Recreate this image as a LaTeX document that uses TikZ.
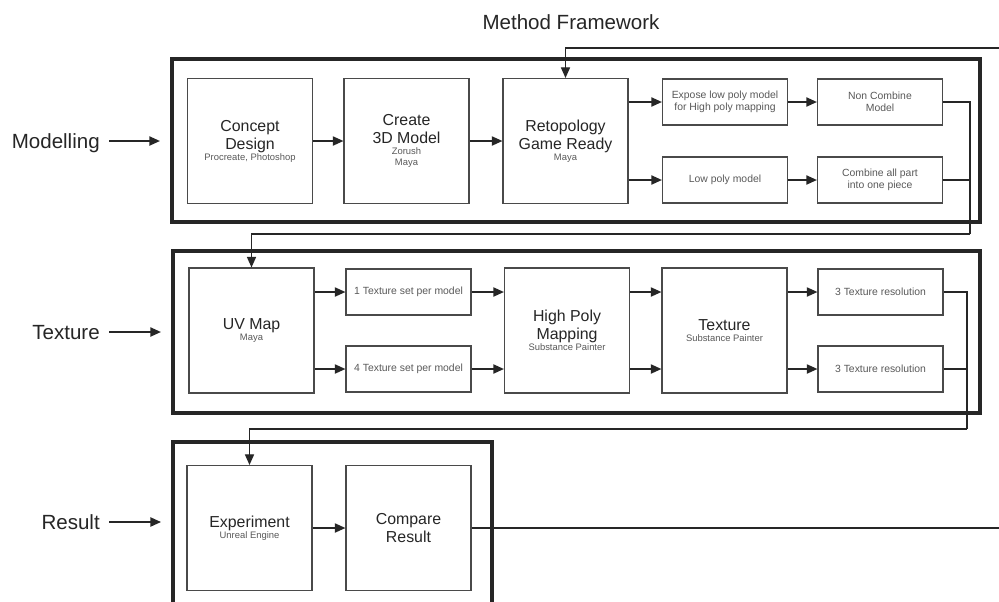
\documentclass[tikz,border=0pt]{standalone}
\usepackage{fontspec}
\setmainfont{Liberation Sans}
\usepackage{xcolor}
\definecolor{InkDark}{HTML}{262626}
\definecolor{InkSoft}{HTML}{595959}
\definecolor{EdgeGray}{HTML}{4A4A4A}
\usepackage{tikz}
\usetikzlibrary{positioning,calc,arrows.meta}
\newcommand\subline[1]{{\fontsize{6.7}{7.6}\selectfont\color{InkSoft}#1}}

\begin{document}
\begin{tikzpicture}[x=0.025cm, y=-0.025cm,
  >={Triangle[length=7.5pt,width=6.5pt]},
  frame/.style={draw=InkDark, line width=2.8pt, inner sep=0pt},
  bigbox/.style={draw=EdgeGray, line width=0.8pt, minimum width=3.125cm, minimum height=3.125cm,
    inner sep=1pt, align=center, text=InkDark, font=\fontsize{11.3}{12.8}\selectfont},
  smallbox/.style={draw=EdgeGray, line width=0.8pt, minimum width=3.125cm, minimum height=1.15cm,
    inner sep=1pt, align=center, text=InkSoft, font=\fontsize{7.4}{8.8}\selectfont},
  headline/.style={font=\fontsize{14.6}{16}\selectfont, text=InkDark, inner sep=0pt, text height=10.4pt, text depth=0pt},
  rowlabel/.style={headline, anchor=east},
  flow/.style={->, line width=1.1pt, draw=InkDark},
  link/.style={line width=0.8pt, draw=InkDark},
  entry/.style={flow, shorten <=6.4pt, shorten >=7.1pt}]
  \path[use as bounding box, clip] (0,0) rectangle (999,601);
  \fill[white] (0,0) rectangle (999,601);

  \node[headline] (title) at (571,22.5) {Method Framework};

  \node[frame, minimum width=20.2cm, minimum height=4.075cm] (mframe) at (576,140.5) {};
  \node[frame, minimum width=20.175cm, minimum height=4.05cm] (tframe) at (576.5,332) {};
  \node[frame, minimum width=7.975cm, minimum height=4.95cm] (rframe) at (332.5,541) {};

  \node[rowlabel] (modlab) at (100,141) {Modelling};
  \node[rowlabel] (texlab) at (100,332) {Texture};
  \node[rowlabel] (reslab) at (100,522) {Result};
  \draw[entry] (modlab.east) -- (modlab.east -| mframe.west);
  \draw[entry] (texlab.east) -- (texlab.east -| tframe.west);
  \draw[entry] (reslab.east) -- (reslab.east -| rframe.west);

  \node[bigbox] (concept) at (250,141) {Concept\\Design\\[-5pt]\subline{Procreate, Photoshop}};
  \node[bigbox] (create) at (406.5,141) {Create\\3D Model\\[-5pt]\subline{Zorush}\\[-5pt]\subline{Maya}};
  \node[bigbox] (retopo) at (565.5,141) {Retopology\\Game Ready\\[-5pt]\subline{Maya}};
  \node[smallbox] (expose) at (725,102) {Expose low poly model\\for High poly mapping};
  \node[smallbox] (noncomb) at (880,102) {Non Combine\\Model};
  \node[smallbox] (lowpoly) at (725,180) {Low poly model};
  \node[smallbox] (combine) at (880,180) {Combine all part\\into one piece};

  \node[bigbox] (uvmap) at (251.5,330.5) {UV Map\\[-5pt]\subline{Maya}};
  \node[smallbox] (tex1) at (408.5,292) {1 Texture set per model};
  \node[smallbox] (tex4) at (408.5,369) {4 Texture set per model};
  \node[bigbox] (highpoly) at (567,330.5) {High Poly\\Mapping\\[-5pt]\subline{Substance Painter}};
  \node[bigbox] (texture) at (724.5,330.5) {Texture\\[-5pt]\subline{Substance Painter}};
  \node[smallbox] (res1) at (880.5,292) {3 Texture resolution};
  \node[smallbox] (res2) at (880.5,369) {3 Texture resolution};

  \node[bigbox] (experiment) at (249.5,528) {Experiment\\[-5pt]\subline{Unreal Engine}};
  \node[bigbox] (compare) at (408.5,528) {Compare\\Result};

  \coordinate (feedin) at (999,48);
  \coordinate (drop1) at (970,234);
  \coordinate (drop2) at (967,429);
  \coordinate (feedout) at (999,528);

  \draw[link,->] (feedin) -| (retopo.north);
  \draw[flow] (concept) -- (create);
  \draw[flow] (create) -- (retopo);
  \draw[flow] (retopo.east |- expose.west) -- (expose.west);
  \draw[flow] (retopo.east |- lowpoly.west) -- (lowpoly.west);
  \draw[flow] (expose) -- (noncomb);
  \draw[flow] (lowpoly) -- (combine);
  \draw[link] (noncomb.east) -| (drop1);
  \draw[link] (combine.east) -- (combine.east -| drop1);
  \draw[link,->] (drop1) -| (uvmap.north);

  \draw[flow] (uvmap.east |- tex1.west) -- (tex1.west);
  \draw[flow] (uvmap.east |- tex4.west) -- (tex4.west);
  \draw[flow] (tex1.east) -- (tex1.east -| highpoly.west);
  \draw[flow] (tex4.east) -- (tex4.east -| highpoly.west);
  \draw[flow] (highpoly.east |- tex1.east) -- (texture.west |- tex1.east);
  \draw[flow] (highpoly.east |- tex4.east) -- (texture.west |- tex4.east);
  \draw[flow] (texture.east |- res1.west) -- (res1.west);
  \draw[flow] (texture.east |- res2.west) -- (res2.west);
  \draw[link] (res1.east) -| (drop2);
  \draw[link] (res2.east) -- (res2.east -| drop2);
  \draw[link,->] (drop2) -| (experiment.north);

  \draw[flow] (experiment) -- (compare);
  \draw[link] (compare.east) -- (feedout);
\end{tikzpicture}
\end{document}
